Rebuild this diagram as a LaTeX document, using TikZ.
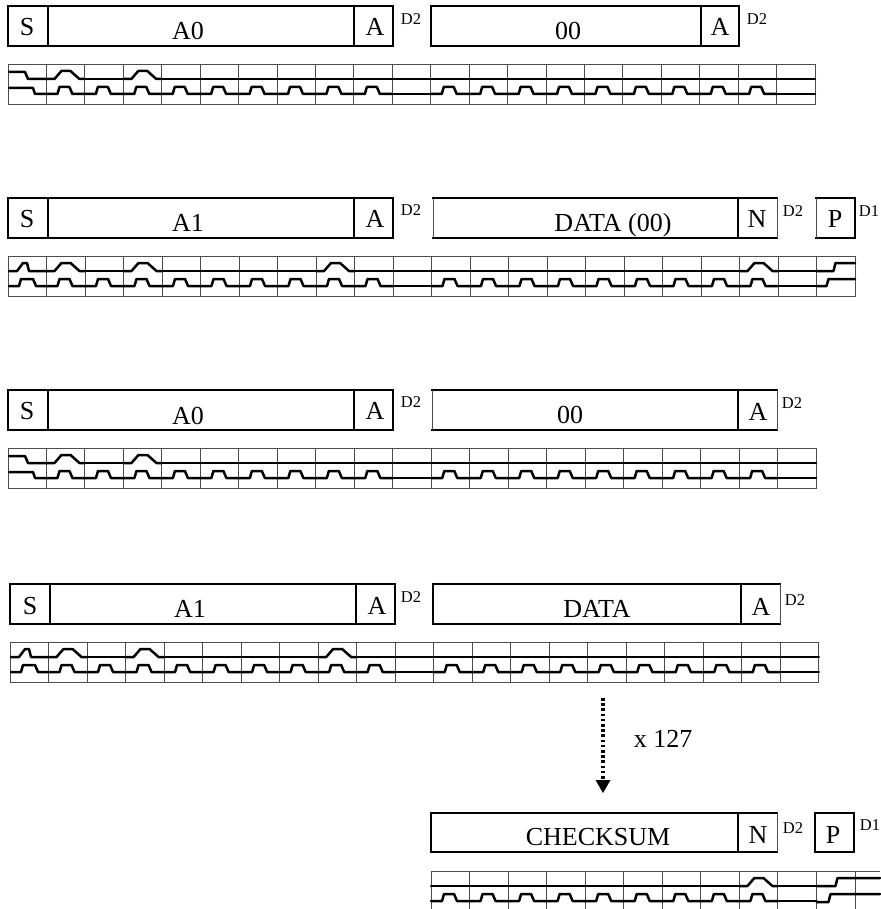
\documentclass[tikz,border=0pt]{standalone}
\usepackage{fontspec}
\setmainfont{Liberation Serif}
\usetikzlibrary{arrows.meta}
\tikzset{
  boxst/.style={draw=black,line width=2.1pt,fill=none,inner sep=0pt,outer sep=0pt,anchor=north west},
  lab/.style={inner sep=0pt,anchor=base,font=\fontsize{26}{26}\selectfont},
  lbl/.style={inner sep=0pt,anchor=base,font=\fontsize{16.5}{17}\selectfont},
  gridln/.style={draw=black!70,line width=0.95pt},
  sig/.style={draw=black,line width=2.5pt,line join=round,line cap=round},
  flow/.style={draw=black,line width=3.3pt,dash pattern=on 2.6pt off 2.6pt,-{Triangle[width=15pt,length=13pt,line width=0pt]}}
}
% \bx{name}{x1}{y1}{x2}{y2}
\newcommand\bx[5]{\node[boxst,minimum width={#4pt-#2pt},minimum height={#5pt-#3pt}] (#1) at (#2,#3) {};}
% \txt{name}{cx}{baseline}{text}
\newcommand\txt[4]{\node[lab] (#1) at (#2,#3) {#4};}
\newcommand\tag[4]{\node[lbl] (#1) at (#2,#3) {#4};}
\newcommand\thinedge[2]{\draw[white,line width=2.8pt,shorten >=1.1pt,shorten <=1.1pt] (#1) -- (#2);\draw[gridln,line width=0.9pt] (#1) -- (#2);}
% grid: n cells
\newcommand\gridrow[1]{%
  \draw[gridln] (0,0) rectangle ({#1*\s},40);
  \foreach \i in {1,...,#1} \draw[gridln] ({\i*\s},0) -- ({\i*\s},40);
}
\newcommand\sdaLow[1]{\foreach \i in {#1} \draw[sig] ({\i*\s},15) -- ({(\i+1)*\s},15);}
\newcommand\sdaHigh[1]{\foreach \i in {#1} \draw[sig] ({\i*\s},15) -- ({\i*\s+8},15) -- ({\i*\s+15},7) -- ({\i*\s+24},7) -- ({\i*\s+33},15) -- ({(\i+1)*\s},15);}
\newcommand\sclFlat[1]{\foreach \i in {#1} \draw[sig] ({\i*\s},30) -- ({(\i+1)*\s},30);}
\newcommand\sclPulse[1]{\foreach \i in {#1} \draw[sig] ({\i*\s},30) -- ({\i*\s+11},30) -- ({\i*\s+13},23) -- ({\i*\s+23},23) -- ({\i*\s+26},30) -- ({(\i+1)*\s},30);}
\newcommand\startA{%
  \draw[sig] (1,8) -- (17,8) -- (20,15) -- (\s,15);
  \draw[sig] (1,24) -- (25,24) -- (27,30) -- (\s,30);
}
\newcommand\startB{%
  \draw[sig] (1,15) -- (9,15) -- (15,7) -- (19,7) -- (21,15) -- (\s,15);
  \draw[sig] (1,30) -- (11,30) -- (13,23) -- (25,23) -- (28,30) -- (\s,30);
}
\begin{document}
\begin{tikzpicture}[x=1pt,y=-1pt]
\useasboundingbox (0,0) rectangle (880,909);
% Row 1
\bx{sa}{8}{6}{48}{46}\bx{aa}{48}{6}{354}{46}\bx{ka}{354}{6}{393}{46}\bx{da}{431}{6}{701}{46}\bx{kb}{701}{6}{739}{46}
\txt{t1}{27}{36}{S}\txt{t2}{188}{40}{A0}\txt{t3}{375}{36}{A}\tag{t4}{411}{25}{D2}\txt{t5}{568}{40}{00}\txt{t6}{720}{36}{A}\tag{t7}{757}{25}{D2}
\begin{scope}[shift={(8,64)}]
\def\s{38.43}\gridrow{21}\startA
\sdaHigh{1,3}\sdaLow{2,4,5,...,20}\sclPulse{1,...,9,11,12,...,19}\sclFlat{10,20}
\end{scope}
% Row 2
\bx{sb}{8}{198}{48}{238}\bx{ab}{48}{198}{354}{238}\bx{kc}{354}{198}{393}{238}\bx{db}{433}{198}{738}{238}\bx{nb}{738}{198}{777}{238}\bx{pb}{816}{198}{855}{238}
\thinedge{db.north west}{db.south west}\thinedge{nb.north east}{nb.south east}\thinedge{pb.north west}{pb.south west}
\txt{u1}{27}{227}{S}\txt{u2}{188}{231}{A1}\txt{u3}{375}{227}{A}\tag{u4}{411}{216}{D2}\txt{u5}{613}{231}{DATA (00)}\txt{u6}{757}{227}{N}\tag{u7}{793}{217}{D2}\txt{u8}{835}{227}{P}\tag{u9}{869}{217}{D1}
\begin{scope}[shift={(8,256)}]
\def\s{38.5}\gridrow{22}\startB
\sdaHigh{1,3,8,19}\sdaLow{2,4,5,6,7,9,10,...,18,20}\sclPulse{1,...,9,11,12,...,19}\sclFlat{10,20}
\draw[sig] ({21*\s},15) -- ({21*\s+17},15) -- ({21*\s+19},7) -- ({22*\s},7);
\draw[sig] ({21*\s},30) -- ({21*\s+10},30) -- ({21*\s+12},23) -- ({22*\s},23);
\end{scope}
% Row 3
\bx{sc}{8}{390}{48}{430}\bx{ac}{48}{390}{354}{430}\bx{kd}{354}{390}{393}{430}\bx{dc}{432}{390}{738}{430}\bx{ke}{738}{390}{777}{430}
\thinedge{dc.north west}{dc.south west}\thinedge{ke.north east}{ke.south east}
\txt{v1}{27}{419}{S}\txt{v2}{188}{424}{A0}\txt{v3}{375}{419}{A}\tag{v4}{411}{407}{D2}\txt{v5}{570}{423}{00}\txt{v6}{758}{420}{A}\tag{v7}{792}{408}{D2}
\begin{scope}[shift={(8,448)}]
\def\s{38.48}\gridrow{21}\startA
\sdaHigh{1,3}\sdaLow{2,4,5,...,20}\sclPulse{1,...,9,11,12,...,19}\sclFlat{10,20}
\end{scope}
% Row 4
\bx{sd}{10}{584}{50}{624}\bx{ad}{50}{584}{356}{624}\bx{kf}{356}{584}{395}{624}\bx{dd}{433}{584}{741}{624}\bx{kg}{741}{584}{780}{624}
\thinedge{kg.north east}{kg.south east}
\txt{w1}{30}{614}{S}\txt{w2}{190}{617}{A1}\txt{w3}{377}{614}{A}\tag{w4}{411}{602}{D2}\txt{w5}{597}{617}{DATA}\txt{w6}{761}{615}{A}\tag{w7}{795}{605}{D2}
\begin{scope}[shift={(10,642)}]
\def\s{38.52}\gridrow{21}\startB
\sdaHigh{1,3,8}\sdaLow{2,4,5,6,7,9,10,...,20}\sclPulse{1,...,9,11,12,...,19}\sclFlat{10,20}
\end{scope}
% Arrow
\coordinate (arrowA) at (603,698);
\coordinate (arrowB) at (603,793);
\draw[flow] (arrowA) -- (arrowB);
\txt{x1}{663}{747}{x 127}
% Row 5
\bx{de}{431}{813}{738}{852}\bx{ne}{738}{813}{777}{852}\bx{pe}{815}{813}{854}{852}
\thinedge{ne.north east}{ne.south east}
\txt{y1}{598}{845}{CHECKSUM}\txt{y2}{758}{843}{N}\tag{y3}{793}{833}{D2}\txt{y4}{833}{843}{P}\tag{y5}{870}{830}{D1}
\begin{scope}[shift={(431,871)}]
\def\s{38.55}
\draw[gridln] (0,0) -- (449,0);
\foreach \i in {0,...,11} \draw[gridln] ({\i*\s},0) -- ({\i*\s},38);
\sdaLow{0,1,...,7,9}\sdaHigh{8}\sclPulse{0,...,8}\sclFlat{9}
\draw[sig] ({10*\s},15) -- ({10*\s+19},15) -- ({10*\s+21},7) -- (449,7);
\draw[sig] ({10*\s},31) -- ({10*\s+12},31) -- ({10*\s+14},23) -- (449,23);
\end{scope}
\end{tikzpicture}
\end{document}
